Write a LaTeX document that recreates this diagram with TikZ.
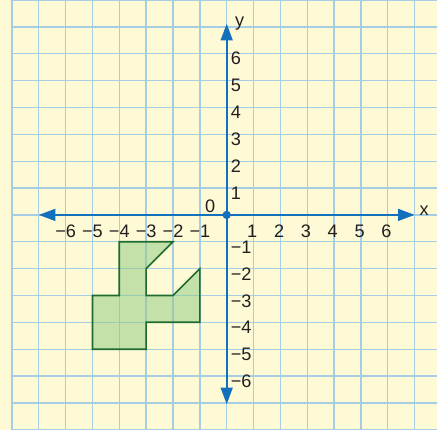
\documentclass[tikz,border=0pt]{standalone}
\usepackage{fontspec}
\setmainfont{Liberation Sans}
\usetikzlibrary{arrows.meta}
\definecolor{paper}{RGB}{255,250,214}
\definecolor{gridblue}{RGB}{165,205,228}
\definecolor{axisblue}{RGB}{18,112,188}
\definecolor{shapefill}{RGB}{140,202,128}
\definecolor{shapeedge}{RGB}{28,108,48}
\definecolor{ink}{RGB}{35,31,32}
\tikzset{
  gridline/.style={draw=gridblue, line width=0.69pt},
  axisline/.style={draw=axisblue, line width=1.15pt, -{Triangle[length=0.31cm,width=0.22cm]}},
  lbl/.style={inner sep=0pt, text=ink, font=\fontsize{9.6}{11}\selectfont},
  shapeline/.style={draw=shapeedge, line width=0.9pt, fill=shapefill, fill opacity=0.5, line join=miter},
}
\begin{document}
\begin{tikzpicture}[x=0.5cm,y=0.5cm]
\useasboundingbox (-8.443,-8.011) rectangle (7.832,8.004);
\fill[paper] (-8.443,-8.011) rectangle (7.832,8.004);
\draw[gridline, step={(1,1)}] (-8,-8.011) grid (7.832,8.004);
% shape
\draw[shapeline] (-4,-1) -- (-2,-1) -- (-3,-2) -- (-3,-3) -- (-2,-3) -- (-1,-2) -- (-1,-4) -- (-3,-4) -- (-3,-5) -- (-5,-5) -- (-5,-3) -- (-4,-3) -- cycle;
% axes
\coordinate (O) at (0,0);
\coordinate (xneg) at (-7,0);
\coordinate (xpos) at (7,0);
\coordinate (yneg) at (0,-7.05);
\coordinate (ypos) at (0,7.12);
\draw[axisline] (O) -- (xpos);
\draw[axisline] (O) -- (xneg);
\draw[axisline] (O) -- (ypos);
\draw[axisline] (O) -- (yneg);
\fill[axisblue] (O) circle (0.155);
% labels
\foreach \k in {1,...,6}{
  \node[lbl] (xp\k) at (\k-0.05,-0.6) {\k};
  \node[lbl] (xn\k) at (-\k,-0.6) {−\k};
  \node[lbl,anchor=west] (yp\k) at (0.14,\k-0.18) {\k};
  \node[lbl,anchor=west] (yn\k) at (0.14,-\k-0.2) {−\k};
}
\node[lbl] (zero) at (-0.62,0.31) {0};
\node[lbl,anchor=base] (xlab) at (7.35,-0.02) {x};
\node[lbl,anchor=base] (ylab) at (0.48,7.0) {y};
\end{tikzpicture}
\end{document}
